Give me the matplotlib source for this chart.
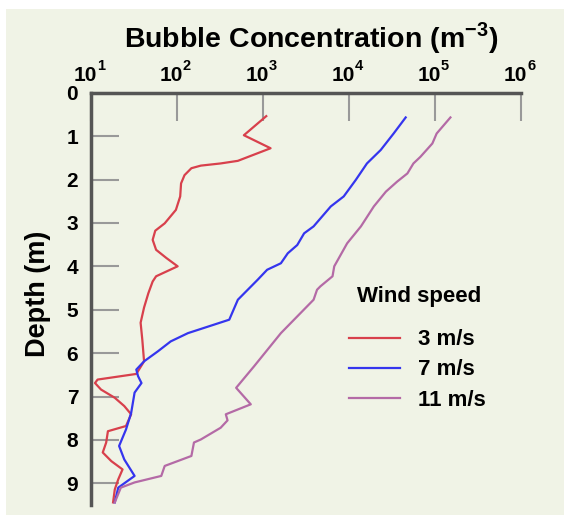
import matplotlib
matplotlib.use("Agg")
import matplotlib.pyplot as plt
from matplotlib.patches import Rectangle

plt.rcParams['font.family'] = ['Liberation Sans', 'DejaVu Sans']

# ---- data (log10 concentration, depth in m) ----
red_log = [3.04, 2.78, 3.09, 2.71, 2.51, 2.28, 2.17, 2.09, 2.05, 2.04, 1.99, 1.86, 1.75, 1.72,
           1.76, 1.88, 2.01, 1.76, 1.72, 1.67, 1.62, 1.58, 1.60, 1.62, 1.53, 1.08, 1.05, 1.12,
           1.28, 1.39, 1.47, 1.41, 1.20, 1.18, 1.14, 1.24, 1.37, 1.32, 1.28, 1.26]
red_depth = [0.54, 0.98, 1.28, 1.57, 1.63, 1.68, 1.74, 1.90, 2.09, 2.39, 2.70, 3.01, 3.18, 3.39,
             3.62, 3.81, 4.00, 4.23, 4.35, 4.62, 4.95, 5.30, 5.70, 6.19, 6.48, 6.61, 6.69, 6.84,
             7.03, 7.22, 7.41, 7.68, 7.80, 8.06, 8.29, 8.49, 8.68, 8.91, 9.14, 9.44]

blue_log = [4.66, 4.52, 4.37, 4.21, 4.08, 3.94, 3.79, 3.59, 3.48, 3.40, 3.29, 3.21, 3.05, 2.94,
            2.71, 2.61, 2.44, 2.13, 1.93, 1.78, 1.62, 1.53, 1.55, 1.59, 1.51, 1.47, 1.41, 1.33,
            1.39, 1.51, 1.32, 1.28]
blue_depth = [0.57, 0.94, 1.32, 1.63, 2.01, 2.39, 2.62, 3.08, 3.24, 3.51, 3.70, 3.93, 4.08, 4.31,
              4.77, 5.23, 5.34, 5.54, 5.73, 5.96, 6.19, 6.38, 6.53, 6.69, 6.91, 7.38, 7.76, 8.14,
              8.45, 8.83, 9.10, 9.44]

purple_log = [5.18, 5.02, 4.97, 4.83, 4.75, 4.68, 4.56, 4.43, 4.29, 4.14, 3.98, 3.83, 3.81,
              3.67, 3.63, 3.59, 3.21, 2.90, 2.69, 2.86, 2.57, 2.59, 2.51, 2.28, 2.20, 2.17, 1.86,
              1.82, 1.51, 1.35, 1.28]
purple_depth = [0.57, 0.94, 1.17, 1.48, 1.63, 1.86, 2.05, 2.28, 2.62, 3.08, 3.47, 4.00, 4.23,
                4.46, 4.54, 4.77, 5.54, 6.30, 6.80, 7.18, 7.41, 7.55, 7.72, 7.99, 8.06, 8.37,
                8.60, 8.83, 8.98, 9.10, 9.44]

series_labels = ['3 m/s', '7 m/s', '11 m/s']
x_ticks = [10, 100, 1000, 10000, 100000, 1000000]
x_tick_exponents = ['1', '2', '3', '4', '5', '6']
y_ticks = [0, 1, 2, 3, 4, 5, 6, 7, 8, 9]

bg = '#f0f3e6'
fig = plt.figure(figsize=(5.64, 5.15), dpi=100, facecolor='white')
fig.patches.append(Rectangle((6/564, 0), 1, 1 - 9/515, transform=fig.transFigure,
                             facecolor=bg, edgecolor='none', zorder=-10))
ax = fig.add_axes([90.7/564, 1 - 505/515, (521 - 90.7)/564, (505 - 92.7)/515])
ax.set_facecolor(bg)

cols = ['#d8404c', '#3535ee', '#b46aa6']
for lg, dp, c, lab in [(red_log, red_depth, cols[0], series_labels[0]),
                       (blue_log, blue_depth, cols[1], series_labels[1]),
                       (purple_log, purple_depth, cols[2], series_labels[2])]:
    ax.plot([10**v for v in lg], dp, color=c, lw=1.6, label=lab, solid_joinstyle='round')

ax.set_xscale('log')
ax.set_xlim(10, 1e6)
ax.set_ylim(9.5, 0)
ax.xaxis.tick_top()
ax.set_xticks(x_ticks)
ax.set_xticklabels([''] * len(x_ticks))
ax.minorticks_off()
ax.set_yticks(y_ticks)
ax.set_yticklabels([str(v) for v in y_ticks])
for t in ax.get_yticklabels():
    t.set_fontweight('bold')
ax.tick_params(axis='x', which='major', direction='in', length=20, width=1.5,
               color='#999999', labelsize=15, pad=4)
ax.tick_params(axis='y', which='major', direction='in', length=20, width=1.5,
               color='#999999', labelsize=15, pad=9)

# tick labels "10" with superscript exponent
for xt, ex in zip(x_ticks, x_tick_exponents):
    ax.annotate('10', xy=(xt, 1), xycoords=('data', 'axes fraction'),
                xytext=(6, 12), textcoords='offset pixels', ha='right', va='baseline',
                fontsize=15, fontweight='bold', annotation_clip=False)
    ax.annotate(ex, xy=(xt, 1), xycoords=('data', 'axes fraction'),
                xytext=(6, 23), textcoords='offset pixels', ha='left', va='baseline',
                fontsize=10.5, fontweight='bold', annotation_clip=False)

for s in ['right', 'bottom']:
    ax.spines[s].set_visible(False)
for s in ['top', 'left']:
    ax.spines[s].set_color('#555555')
    ax.spines[s].set_linewidth(2.5)

plt.rcParams['mathtext.fontset'] = 'custom'
plt.rcParams['mathtext.bf'] = 'Liberation Sans:bold'
fig.text(0.552, 1 - 38/515, r'Bubble Concentration (m$^{\mathbf{-3}}$)', ha='center',
         va='center', fontsize=20.5, fontweight='bold')
fig.text(38/564, 1 - 294/515, 'Depth (m)', ha='center', va='center', rotation=90,
         fontsize=19.5, fontweight='bold')

leg = ax.legend(loc='upper left', bbox_to_anchor=((338-90.7)/430.3, 1 - (275-92.7)/412.3),
                frameon=False, title='Wind speed', handlelength=2.3,
                handletextpad=0.8, labelspacing=0.41, borderpad=0,
                prop={'size': 16, 'weight': 'bold'})
leg.get_title().set_fontweight('bold')
leg.get_title().set_fontsize(16)
leg._legend_box.sep = 16
leg._legend_box.align = 'left'
leg.get_title().set_position((8, 0))

fig.savefig('out.png', dpi=100, facecolor='white')
